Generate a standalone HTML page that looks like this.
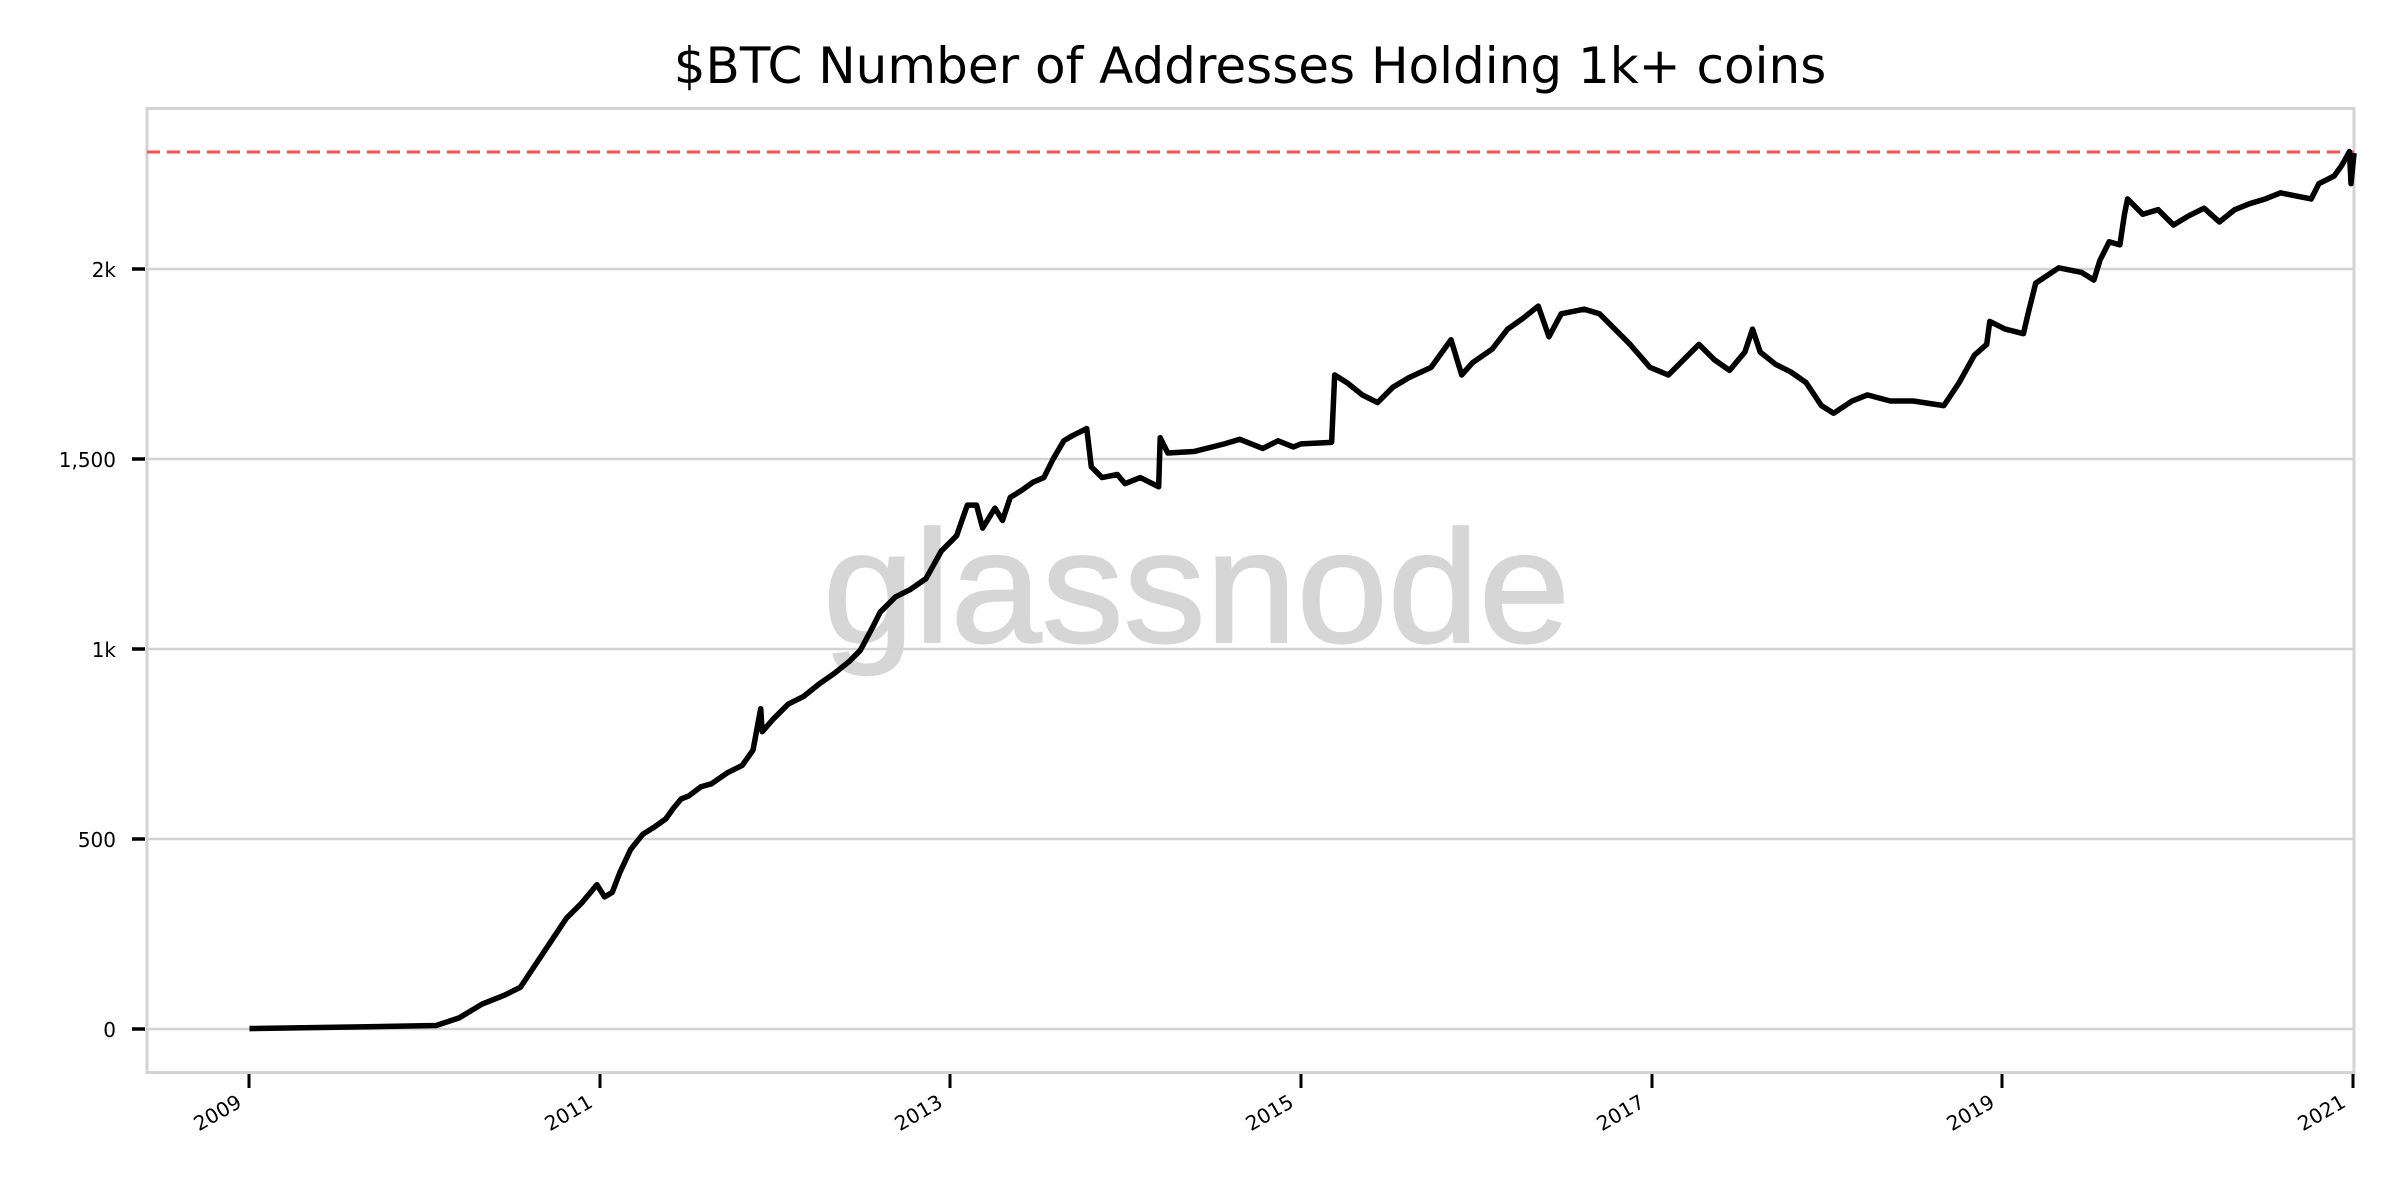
<!DOCTYPE html>
<html><head><meta charset="utf-8"><style>
html,body{margin:0;padding:0;background:#fff;}
svg{display:block;}
</style></head><body>
<svg width="2400" height="1200" viewBox="0 0 2400 1200" xmlns="http://www.w3.org/2000/svg" font-family="DejaVu Sans, Liberation Sans, sans-serif">
<rect width="2400" height="1200" fill="#fff"/>
<text x="1250" y="83" font-size="50" text-anchor="middle" fill="#000">$BTC Number of Addresses Holding 1k+ coins</text>
<text x="823" y="642" font-size="160" font-family="Liberation Sans, sans-serif" fill="#d6d6d6" stroke="#d6d6d6" stroke-width="2" textLength="747" lengthAdjust="spacingAndGlyphs">glassnode</text>
<g stroke="#d3d3d3" stroke-width="2.5">
<line x1="147" y1="1029" x2="2354" y2="1029"/>
<line x1="147" y1="839" x2="2354" y2="839"/>
<line x1="147" y1="649" x2="2354" y2="649"/>
<line x1="147" y1="459" x2="2354" y2="459"/>
<line x1="147" y1="269" x2="2354" y2="269"/>
</g>
<rect x="147" y="108.5" width="2207" height="964" fill="none" stroke="#d3d3d3" stroke-width="3"/>
<g stroke="#000" stroke-width="3.5">
<line x1="132" y1="1029" x2="145" y2="1029"/>
<line x1="132" y1="839" x2="145" y2="839"/>
<line x1="132" y1="649" x2="145" y2="649"/>
<line x1="132" y1="459" x2="145" y2="459"/>
<line x1="132" y1="269" x2="145" y2="269"/>
</g>
<g font-size="20" text-anchor="end" fill="#000">
<text x="116" y="1037">0</text>
<text x="116" y="847">500</text>
<text x="116" y="657">1k</text>
<text x="116" y="467">1,500</text>
<text x="116" y="277">2k</text>
</g>
<g stroke="#000" stroke-width="3">
<line x1="249" y1="1074" x2="249" y2="1088"/>
<line x1="600" y1="1074" x2="600" y2="1088"/>
<line x1="950" y1="1074" x2="950" y2="1088"/>
<line x1="1301" y1="1074" x2="1301" y2="1088"/>
<line x1="1652" y1="1074" x2="1652" y2="1088"/>
<line x1="2002" y1="1074" x2="2002" y2="1088"/>
<line x1="2353" y1="1074" x2="2353" y2="1088"/>
</g>
<g font-size="20" text-anchor="end" fill="#000">
<text transform="translate(243,1106) rotate(-30)">2009</text>
<text transform="translate(594,1106) rotate(-30)">2011</text>
<text transform="translate(944,1106) rotate(-30)">2013</text>
<text transform="translate(1295,1106) rotate(-30)">2015</text>
<text transform="translate(1646,1106) rotate(-30)">2017</text>
<text transform="translate(1996,1106) rotate(-30)">2019</text>
<text transform="translate(2347,1106) rotate(-30)">2021</text>
</g>
<line x1="147" y1="152" x2="2354" y2="152" stroke="#f55353" stroke-width="3" stroke-dasharray="13,7"/>
<g transform="scale(1.5306)">
<polyline fill="none" stroke="#000" stroke-width="3.6" stroke-linejoin="round" points="163,672 230,671 285,670 300,665 315,656 330,650 340,645 350,630 360,615 370,600 380,590 390,578 395,586 400,583 405,570 412,555 420,545 428,540 435,535 440,528 445,522 450,520 458,514 465,512 475,505 485,500 492,490 497,463 498,478 505,470 515,460 525,455 535,447 545,440 555,432 562,425 570,410 575,400 585,390 595,385 605,378 615,360 625,350 632,330 638,330 642,345 650,332 655,340 660,325 668,320 675,315 682,312 688,300 695,288 700,285 710,280 713,305 720,312 730,310 735,316 745,312 757,318 758,286 763,296 780,295 800,290 810,287 825,293 835,288 845,292 850,290 870,289 872,245 880,250 890,258 900,263 910,253 920,247 935,240 948,222 955,245 962,237 975,228 985,215 995,208 1005,200 1012,220 1020,205 1035,202 1045,205 1055,215 1065,225 1078,240 1090,245 1100,235 1110,225 1120,235 1130,242 1140,230 1145,215 1150,230 1160,238 1170,243 1180,250 1190,265 1198,270 1210,262 1220,258 1235,262 1250,262 1270,265 1280,250 1290,232 1298,225 1300,210 1310,215 1322,218 1325,205 1330,185 1345,175 1360,178 1368,183 1372,170 1378,158 1385,160 1388,140 1390,130 1400,140 1410,137 1420,147 1430,141 1440,136 1450,145 1460,137 1470,133 1480,130 1490,126 1500,128 1510,130 1515,120 1525,115 1530,108 1535,99 1536,120 1538,100"/>
</g>
</svg>
</body></html>
